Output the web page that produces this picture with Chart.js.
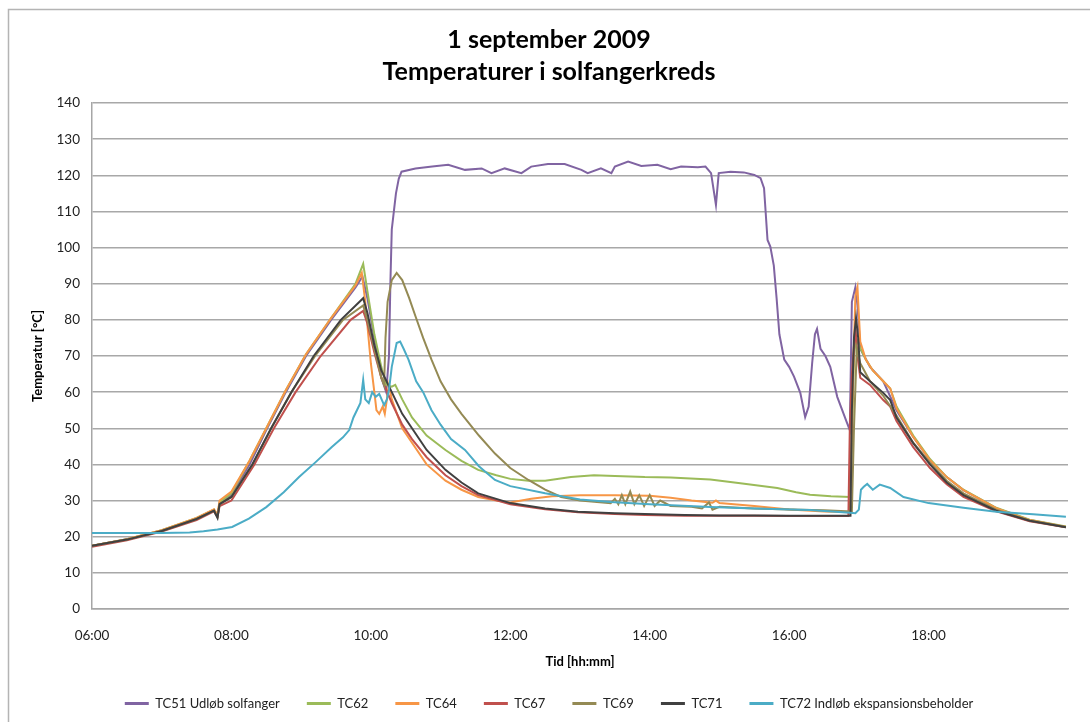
<!DOCTYPE html>
<html>
<head>
<meta charset="utf-8">
<script src="https://cdn.jsdelivr.net/npm/chart.js@4.4.0/dist/chart.umd.min.js"></script>
<style>
  html, body { margin: 0; padding: 0; background: #fff; overflow: hidden; }
  #wrap { position: relative; width: 1090px; height: 722px; }
</style>
</head>
<body>
<div id="wrap"><canvas id="chart"></canvas></div>
<script>
// hour of day (decimal) and temperature [°C] per series
var tc51Time = [6.0, 6.5, 7.0, 7.5, 7.75, 7.8, 7.83, 8.0, 8.26, 8.5, 8.78, 9.07, 9.43, 9.78, 9.88, 9.95, 10.05, 10.15, 10.22, 10.26, 10.28, 10.30, 10.33, 10.36, 10.40, 10.44,
    10.64, 10.88, 11.11, 11.35, 11.59, 11.73, 11.92, 12.16, 12.30, 12.54, 12.78, 13.02, 13.11, 13.30, 13.45, 13.50, 13.69, 13.88, 14.11, 14.30, 14.45, 14.69, 14.80, 14.88, 14.95, 14.99,
    15.16, 15.35, 15.50, 15.59, 15.64, 15.69, 15.73, 15.78, 15.82, 15.86, 15.93, 16.0, 16.07, 16.16, 16.23, 16.28, 16.33, 16.37, 16.40, 16.45, 16.52, 16.59, 16.69, 16.83, 16.87,
    16.90, 16.95, 16.98, 17.02, 17.16, 17.35, 17.54, 17.78, 18.02, 18.26, 18.5, 18.97, 19.45, 19.97];
var tc51Temp = [17.5, 19.3, 21.7, 25.0, 27.2, 25.8, 29.0, 31.5, 40.0, 49.5, 60.0, 70.0, 80.0, 89.0, 92.0, 86.0, 75.0, 64.0, 60.0, 70.0, 90.0, 105.0, 110.0, 115.0, 119.0, 121.0,
    121.9, 122.4, 122.9, 121.5, 121.9, 120.6, 121.9, 120.6, 122.4, 123.1, 123.1, 121.5, 120.6, 121.9, 120.6, 122.4, 123.8, 122.6, 122.9, 121.7, 122.4, 122.2, 122.4, 120.6, 111.8, 120.6,
    121.0, 120.8, 120.1, 119.2, 116.4, 102.1, 100.3, 95.0, 86.0, 76.0, 69.0, 67.0, 64.3, 59.8, 53.1, 56.0, 68.0, 76.0, 77.5, 72.0, 70.0, 67.0, 58.7, 51.5, 49.5,
    85.0, 89.0, 84.0, 72.0, 67.0, 63.0, 55.0, 47.6, 41.2, 36.5, 32.9, 27.9, 24.6, 22.7];

var tc62Time = [6.0, 6.5, 7.0, 7.5, 7.75, 7.8, 7.83, 8.0, 8.26, 8.5, 8.78, 9.07, 9.43, 9.78, 9.89, 9.95, 10.05, 10.15, 10.22, 10.30, 10.35, 10.45, 10.59, 10.8, 11.07, 11.3, 11.54, 11.8,
    12.0, 12.26, 12.5, 12.87, 13.2, 13.5, 13.93, 14.3, 14.87, 15.3, 15.83, 16.1, 16.3, 16.6, 16.87, 16.90, 16.93, 16.96, 17.0, 17.1, 17.2, 17.35, 17.45, 17.54, 17.78, 18.02, 18.26, 18.5, 18.97, 19.45, 19.97];
var tc62Temp = [17.5, 19.3, 21.8, 25.2, 27.5, 26.0, 29.5, 32.0, 41.0, 50.0, 60.5, 70.5, 80.5, 90.0, 95.5, 88.0, 76.0, 67.0, 62.0, 61.5, 62.0, 58.0, 53.0, 48.0, 44.0, 41.0, 38.5, 37.0,
    36.0, 35.5, 35.5, 36.5, 37.0, 36.8, 36.5, 36.4, 35.8, 34.8, 33.5, 32.3, 31.6, 31.2, 31.0, 45.0, 70.0, 75.0, 73.0, 69.0, 66.0, 63.0, 61.0, 56.0, 48.0, 41.5, 36.5, 33.0, 28.0, 24.7, 22.8];

var tc64Time = [6.0, 6.5, 7.0, 7.5, 7.75, 7.8, 7.83, 8.0, 8.26, 8.5, 8.78, 9.07, 9.43, 9.78, 9.87, 9.92, 10.0, 10.05, 10.08, 10.12, 10.17, 10.20, 10.23, 10.26, 10.30, 10.45, 10.59, 10.8,
    11.07, 11.3, 11.54, 11.8, 12.0, 12.3, 12.6, 13.0, 13.5, 14.0, 14.3, 14.6, 14.9, 14.95, 15.0, 15.5, 16.0, 16.5, 16.87, 16.91, 16.95, 16.98, 17.02, 17.1, 17.2, 17.35, 17.45, 17.54, 17.78,
    18.02, 18.26, 18.5, 18.97, 19.45, 19.97];
var tc64Temp = [17.5, 19.3, 21.8, 25.2, 27.6, 26.0, 30.0, 32.5, 41.0, 50.0, 60.5, 70.5, 80.5, 89.5, 93.0, 85.0, 68.0, 60.0, 55.0, 54.0, 56.0, 54.0, 58.0, 62.0, 58.0, 50.0, 46.0, 40.0,
    35.5, 33.0, 31.0, 30.0, 29.5, 30.5, 31.2, 31.5, 31.5, 31.3, 30.8, 30.0, 29.4, 30.0, 29.3, 28.5, 27.5, 27.0, 26.8, 60.0, 86.5, 89.0, 74.0, 69.0, 66.0, 63.0, 61.0, 55.5, 47.6,
    41.2, 36.5, 32.9, 27.9, 24.6, 22.7];

var tc67Time = [6.0, 6.5, 7.0, 7.5, 7.75, 7.8, 7.83, 8.0, 8.33, 8.61, 8.92, 9.28, 9.71, 9.89, 9.95, 10.05, 10.15, 10.3, 10.45, 10.59, 10.8, 11.07, 11.3, 11.54, 12.0, 12.5, 12.97,
    13.5, 13.93, 14.5, 15.0, 15.5, 16.0, 16.5, 16.85, 16.87, 16.90, 16.95, 16.98, 17.02, 17.16, 17.35, 17.45, 17.54, 17.78, 18.02, 18.26, 18.5, 18.97, 19.45, 19.97];
var tc67Temp = [17.2, 19.0, 21.4, 24.6, 27.0, 25.5, 28.5, 30.0, 40.0, 50.0, 60.0, 70.0, 80.0, 82.5, 79.0, 71.0, 64.0, 57.0, 51.0, 47.0, 42.0, 37.0, 34.0, 31.5, 29.0, 27.6, 26.8,
    26.3, 26.0, 25.8, 25.8, 25.8, 25.7, 25.7, 25.7, 50.0, 65.0, 78.0, 70.0, 64.0, 62.0, 57.8, 56.0, 52.0, 44.8, 39.0, 34.5, 31.0, 27.0, 24.3, 22.6];

var tc69Time = [6.0, 6.5, 7.0, 7.5, 7.75, 7.8, 7.83, 8.0, 8.3, 8.57, 8.86, 9.2, 9.6, 9.89, 9.95, 10.05, 10.15, 10.19, 10.21, 10.24, 10.3, 10.37, 10.45, 10.55, 10.64, 10.75, 10.87,
    11.0, 11.15, 11.3, 11.55, 11.78, 12.0, 12.26, 12.5, 12.73, 13.0, 13.44, 13.5, 13.55, 13.6, 13.65, 13.72, 13.78, 13.85, 13.92, 14.0, 14.07, 14.15, 14.3, 14.6, 14.75, 14.85, 14.9,
    15.0, 15.5, 16.0, 16.5, 16.9, 16.93, 16.97, 17.02, 17.16, 17.35, 17.54, 17.78, 18.02, 18.26, 18.5, 18.97, 19.45, 19.97];
var tc69Temp = [17.5, 19.2, 21.6, 24.9, 27.2, 25.5, 29.0, 31.0, 40.0, 50.0, 60.0, 70.0, 80.0, 84.0, 80.0, 72.0, 64.0, 62.0, 75.0, 85.0, 91.0, 93.0, 91.0, 86.0, 81.0, 75.0, 69.0,
    63.0, 58.0, 54.0, 48.0, 43.0, 39.0, 35.7, 33.0, 31.0, 30.0, 29.3, 30.5, 29.0, 31.5, 29.0, 32.5, 29.0, 31.5, 28.5, 31.5, 28.5, 30.0, 28.5, 28.3, 27.8, 29.5, 27.5,
    28.3, 27.8, 27.5, 27.3, 27.0, 50.0, 72.0, 68.0, 63.0, 59.0, 53.5, 46.0, 40.5, 35.5, 32.0, 27.5, 24.5, 22.7];

var tc71Time = [6.0, 6.5, 7.0, 7.5, 7.75, 7.8, 7.83, 8.0, 8.3, 8.57, 8.86, 9.18, 9.57, 9.89, 9.95, 10.05, 10.15, 10.3, 10.45, 10.59, 10.8, 11.07, 11.3, 11.54, 12.0, 12.5, 12.97,
    13.5, 13.93, 14.5, 15.0, 15.5, 16.0, 16.5, 16.88, 16.90, 16.93, 16.96, 16.99, 17.02, 17.16, 17.35, 17.45, 17.54, 17.78, 18.02, 18.26, 18.5, 18.97, 19.45, 19.97];
var tc71Temp = [17.5, 19.2, 21.6, 24.9, 27.2, 25.2, 29.0, 31.0, 40.0, 50.0, 60.0, 70.0, 80.0, 86.0, 82.0, 73.0, 66.0, 60.0, 54.0, 50.0, 44.0, 38.5, 35.0, 32.0, 29.3, 27.8, 26.9,
    26.5, 26.3, 26.0, 25.9, 25.9, 25.8, 25.8, 25.8, 55.0, 75.0, 80.5, 75.0, 65.5, 63.0, 59.8, 57.8, 53.0, 45.9, 40.0, 35.0, 31.5, 27.2, 24.4, 22.6];

var tc72Time = [6.0, 6.5, 7.0, 7.4, 7.6, 7.8, 8.01, 8.25, 8.5, 8.75, 8.97, 9.2, 9.44, 9.6, 9.69, 9.75, 9.8, 9.85, 9.89, 9.92, 9.97, 10.02, 10.07, 10.12, 10.19, 10.23, 10.26, 10.3,
    10.37, 10.42, 10.47, 10.54, 10.65, 10.75, 10.87, 11.0, 11.15, 11.35, 11.55, 11.78, 12.0, 12.5, 13.0, 13.44, 14.0, 14.87, 15.5, 16.3, 16.87, 16.95, 17.0, 17.03, 17.07, 17.12,
    17.2, 17.3, 17.45, 17.64, 18.0, 18.5, 18.97, 19.5, 19.97];
var tc72Temp = [21.0, 21.0, 21.0, 21.2, 21.5, 22.0, 22.7, 25.0, 28.2, 32.3, 36.5, 40.5, 44.8, 47.5, 49.5, 53.0, 55.0, 57.0, 63.4, 58.0, 57.0, 60.0, 58.7, 59.5, 56.4, 58.0, 60.6, 67.0,
    73.6, 74.0, 72.0, 69.0, 63.0, 60.0, 55.0, 51.0, 47.0, 44.0, 39.5, 35.7, 34.0, 32.0, 30.3, 29.6, 29.0, 28.2, 27.8, 27.4, 26.6, 26.5, 27.5, 33.0, 33.8, 34.6,
    33.0, 34.4, 33.5, 31.0, 29.3, 28.0, 26.9, 26.2, 25.5];

var seriesNames = ['TC51 Udløb solfanger', 'TC62', 'TC64', 'TC67', 'TC69', 'TC71', 'TC72 Indløb ekspansionsbeholder'];
var seriesColors = ['#8064A2', '#9BBB59', '#F79646', '#C0504D', '#948A54', '#404040', '#4BACC6'];
var seriesTimes = [tc51Time, tc62Time, tc64Time, tc67Time, tc69Time, tc71Time, tc72Time];
var seriesTemps = [tc51Temp, tc62Temp, tc64Temp, tc67Temp, tc69Temp, tc71Temp, tc72Temp];

var xTicks = [6, 8, 10, 12, 14, 16, 18];
var yTicks = [0, 10, 20, 30, 40, 50, 60, 70, 80, 90, 100, 110, 120, 130, 140];

function toPoints(times, temps) {
    var pts = [];
    for (var i = 0; i < times.length; i++) {
        pts.push({ x: times[i], y: temps[i] });
    }
    return pts;
}

function hhmm(v) {
    var h = Math.floor(v);
    var m = Math.round((v - h) * 60);
    return (h < 10 ? '0' : '') + h + ':' + (m < 10 ? '0' : '') + m;
}

// Excel draws later series on top, Chart.js draws dataset 0 on top -> build reversed
var datasets = [];
for (var i = seriesNames.length - 1; i >= 0; i--) {
    datasets.push({
        label: seriesNames[i],
        data: toPoints(seriesTimes[i], seriesTemps[i]),
        borderColor: seriesColors[i],
        backgroundColor: seriesColors[i],
        borderWidth: 2,
        pointRadius: 0,
        tension: 0,
        fill: false
    });
}

// outer chart frame
var framePlugin = {
    id: 'frame',
    beforeDraw: function(chart) {
        var ctx = chart.ctx;
        ctx.save();
        ctx.strokeStyle = '#b4b4b4';
        ctx.lineWidth = 1.5;
        ctx.strokeRect(8.5, 9.5, 1200, 800);
        ctx.restore();
    }
};

var FONT = 'Lato, "Open Sans", sans-serif';

new Chart(document.getElementById('chart').getContext('2d'), {
    type: 'line',
    data: { datasets: datasets },
    plugins: [framePlugin],
    options: {
        responsive: true,
        maintainAspectRatio: false,
        devicePixelRatio: 1,
        animation: false,
        layout: { padding: { top: 0, left: 30, right: 22, bottom: 2 } },
        plugins: {
            title: {
                display: true,
                text: ['1 september 2009', 'Temperaturer i solfangerkreds'],
                color: '#000',
                font: { family: FONT, size: 25, weight: 'bold', lineHeight: 1.28 },
                padding: { top: 24, bottom: 15 }
            },
            legend: {
                position: 'bottom',
                reverse: true,
                labels: {
                    color: '#222',
                    font: { family: FONT, size: 13 },
                    boxWidth: 24,
                    boxHeight: 3,
                    padding: 27,
                    generateLabels: function(chart) {
                        var items = Chart.defaults.plugins.legend.labels.generateLabels(chart);
                        for (var k = 0; k < items.length; k++) {
                            items[k].lineWidth = 0;
                            items[k].fillStyle = items[k].strokeStyle;
                        }
                        return items;
                    }
                }
            },
            tooltip: { enabled: false }
        },
        scales: {
            x: {
                type: 'linear',
                min: 6,
                max: 20,
                afterBuildTicks: function(scale) {
                    scale.ticks = xTicks.map(function(v) { return { value: v }; });
                },
                afterFit: function(scale) { scale.height = 61; },
                grid: { display: false, drawTicks: false },
                border: { display: true, color: '#a6a6a6', width: 1.5 },
                ticks: {
                    color: '#222',
                    font: { family: FONT, size: 13.5 },
                    padding: 19,
                    maxRotation: 0,
                    callback: function(v) { return hhmm(v); }
                },
                title: {
                    display: true,
                    text: 'Tid [hh:mm]',
                    color: '#000',
                    font: { family: FONT, size: 13, weight: 'bold' },
                    padding: { top: 0, bottom: 0 }
                }
            },
            y: {
                min: 0,
                max: 140,
                afterBuildTicks: function(scale) {
                    scale.ticks = yTicks.map(function(v) { return { value: v }; });
                },
                afterFit: function(scale) { scale.width = 62; },
                grid: { color: '#a8a8a8', lineWidth: 1.5, drawTicks: false },
                border: { display: true, color: '#a6a6a6', width: 1.5 },
                ticks: {
                    color: '#222',
                    font: { family: FONT, size: 13.5 },
                    padding: 12
                },
                title: {
                    display: true,
                    text: 'Temperatur [°C]',
                    color: '#000',
                    font: { family: FONT, size: 13, weight: 'bold' },
                    padding: { top: 0, bottom: 0 }
                }
            }
        }
    }
});
</script>
</body>
</html>
